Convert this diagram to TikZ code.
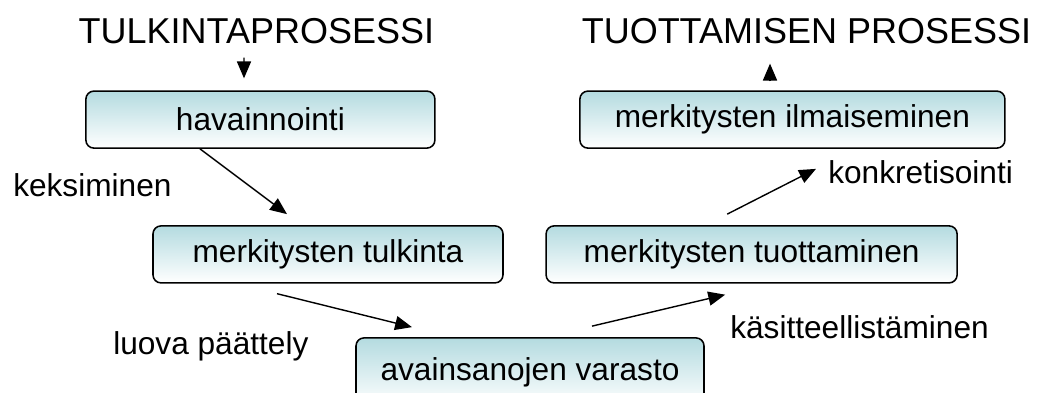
\documentclass[tikz,border=0pt]{standalone}
\usepackage{fontspec}
\setmainfont{Liberation Sans}
\usetikzlibrary{arrows.meta}
\definecolor{boxteal}{RGB}{180,219,224}
\begin{document}
\begin{tikzpicture}[
		proc/.style = {draw, line width=1.1pt, rounded corners=0.2cm, top color=boxteal, bottom color=white, minimum height=1.425cm, inner sep=0pt, font=\fontsize{22.5}{27}\selectfont},
		lbl/.style = {anchor=base west, inner sep=0pt, font=\fontsize{22.5}{27}\selectfont},
		ttl/.style = {anchor=base, inner sep=0pt, font=\fontsize{25.6}{30}\selectfont},
		flow/.style = {-{Triangle[length=12pt,width=10pt]}, line width=1pt}]
		\clip (0,0) rectangle (25.925,9.8);
		\useasboundingbox (0,0) rectangle (25.925,9.8);
		% titles
		\node[ttl] (tulkproc) at (6.41,8.725) {TULKINTAPROSESSI};
		\node[ttl] (tuotproc) at (20.16,8.725) {TUOTTAMISEN PROSESSI};
		% boxes
		\node[proc, minimum width=8.725cm] (hav) at (6.51,6.81) {havainnointi};
		\node[proc, minimum width=8.75cm] (tulk) at (8.2,3.44) {merkitysten tulkinta};
		\node[proc, minimum width=8.7cm, minimum height=1.725cm] (avain) at (13.25,0.49) {avainsanojen varasto};
		\node[proc, minimum width=10.275cm] (tuot) at (18.79,3.44) {merkitysten tuottaminen};
		\node[proc, minimum width=10.625cm] (ilm) at (19.81,6.81) {merkitysten ilmaiseminen};
		% labels
		\node[lbl] (keks) at (0.325,4.9) {keksiminen};
		\node[lbl] (luova) at (2.825,0.95) {luova päättely};
		\node[lbl] (kasit) at (18.25,1.35) {käsitteellistäminen};
		\node[lbl] (konkr) at (20.7,5.225) {konkretisointi};
		% arrows
		\draw[flow] ([xshift=-0.31cm, yshift=-0.35cm]tulkproc.south) -- ([xshift=-0.41cm, yshift=0.3cm]hav.north);
		\draw[flow] ([xshift=-1.51cm]hav.south) -- ([xshift=-1.025cm, yshift=0.275cm]tulk.north);
		\draw[flow] ([xshift=-1.275cm, yshift=-0.25cm]tulk.south) -- ([xshift=-2.95cm, yshift=0.25cm]avain.north);
		\draw[flow] ([xshift=1.55cm, yshift=0.275cm]avain.north) -- ([xshift=-0.66cm, yshift=-0.275cm]tuot.south);
		\draw[flow] ([xshift=-0.61cm, yshift=0.275cm]tuot.north) -- ([xshift=0.59cm, yshift=-0.5cm]ilm.south);
		\draw[flow] ([xshift=-0.56cm, yshift=0.225cm]ilm.north) -- ([xshift=-0.91cm, yshift=-0.5cm]tuotproc.south);
	\end{tikzpicture}
\end{document}
